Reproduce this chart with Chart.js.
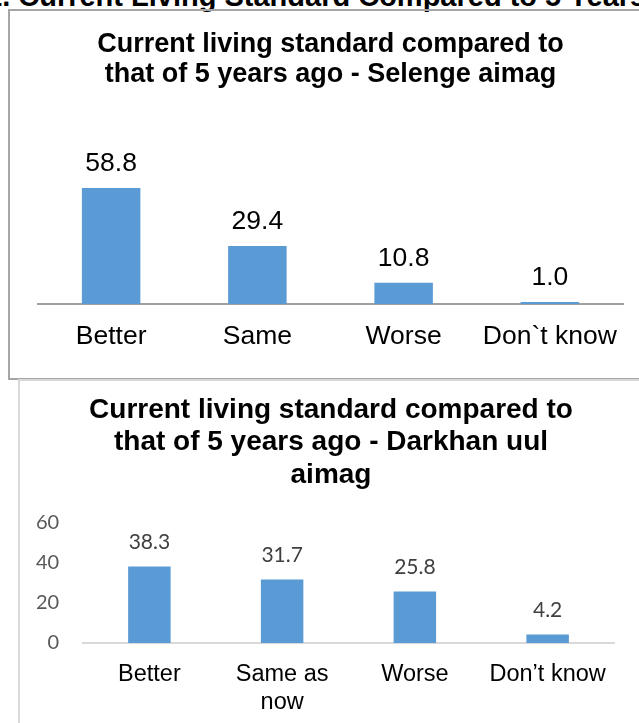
<!DOCTYPE html>
<html>
<head>
<meta charset="utf-8">
<script src="https://cdn.jsdelivr.net/npm/chart.js@4.4.0/dist/chart.umd.min.js"></script>
<style>
  html, body { margin: 0; padding: 0; background: #fff; overflow: hidden; width: 639px; height: 723px; }
  #heading {
    position: absolute; left: -14px; top: -18px; white-space: nowrap;
    font: bold 29px "Liberation Sans", Arial, sans-serif; line-height: 29px; color: #000;
  }
  #box1 { position: absolute; left: 8px; top: 9px; width: 700px; height: 371px; box-sizing: border-box; border: 2px solid #a6a6a6; }
  #box2 { position: absolute; left: 18px; top: 379px; width: 700px; height: 400px; box-sizing: border-box; border: 2px solid #d9d9d9; background: #fff; }
  #wrap1 { position: absolute; left: 9px; top: 10px; width: 630px; height: 368px; }
  #wrap2 { position: absolute; left: 21px; top: 382px; width: 618px; height: 341px; }
</style>
</head>
<body>
<div id="heading">1. Current Living Standard Compared to 5 Years Ago</div>
<div id="box1"></div>
<div id="box2"></div>
<div id="wrap1"><canvas id="selengeChart" width="630" height="368"></canvas></div>
<div id="wrap2"><canvas id="darkhanChart" width="618" height="341"></canvas></div>
<script>
// data
const selengeLabels = ["Better", "Same", "Worse", "Don`t know"];
const selengeValues = [58.8, 29.4, 10.8, 1.0];
const darkhanLabels = ["Better", ["Same as", "now"], "Worse", "Don’t know"];
const darkhanValues = [38.3, 31.7, 25.8, 4.2];
const darkhanTicks = [0, 20, 40, 60];

const barColor = '#5b9bd5';

// draws the value above each bar
const valueLabels = {
    id: 'valueLabels',
    afterDatasetsDraw(chart, args, opts) {
        const ctx = chart.ctx;
        ctx.save();
        ctx.font = opts.font;
        ctx.fillStyle = opts.color;
        ctx.textAlign = 'center';
        ctx.textBaseline = 'middle';
        chart.getDatasetMeta(0).data.forEach((bar, i) => {
            let v = chart.data.datasets[0].data[i];
            ctx.fillText(v.toFixed(1), bar.x, bar.y - opts.offset);
        });
        ctx.restore();
    }
};

let selengeChart = new Chart(document.getElementById('selengeChart'), {
    type: 'bar',
    data: {
        labels: selengeLabels,
        datasets: [{
            data: selengeValues,
            backgroundColor: barColor,
            categoryPercentage: 1,
            barPercentage: 0.4
        }]
    },
    plugins: [valueLabels],
    options: {
        responsive: false,
        animation: false,
        layout: { padding: { left: 29, right: 16, top: 0, bottom: 0 } },
        plugins: {
            legend: { display: false },
            tooltip: { enabled: false },
            title: {
                display: true,
                text: ["Current living standard compared to", "that of 5 years ago - Selenge aimag"],
                color: '#000',
                font: { family: '"Liberation Sans", Arial', size: 27, weight: 'bold', lineHeight: 30 / 27 },
                padding: { top: 20, bottom: 76 }
            },
            valueLabels: { font: '26.5px "Liberation Sans", Arial', color: '#000', offset: 24 }
        },
        scales: {
            x: {
                afterFit: (scale) => { scale.height = 74; },
                grid: { display: false, drawTicks: false },
                border: { display: true, color: '#a0a0a0', width: 2 },
                ticks: { color: '#000', padding: 17, font: { family: '"Liberation Sans", Arial', size: 26.5, lineHeight: 1.2 } }
            },
            y: {
                display: false,
                min: 0,
                max: 70
            }
        }
    }
});

let darkhanChart = new Chart(document.getElementById('darkhanChart'), {
    type: 'bar',
    data: {
        labels: darkhanLabels,
        datasets: [{
            data: darkhanValues,
            backgroundColor: barColor,
            categoryPercentage: 1,
            barPercentage: 0.32
        }]
    },
    plugins: [valueLabels],
    options: {
        responsive: false,
        animation: false,
        layout: { padding: { left: 27, right: 25, top: 0, bottom: 0 } },
        plugins: {
            legend: { display: false },
            tooltip: { enabled: false },
            title: {
                display: true,
                text: ["Current living standard compared to", "that of 5 years ago - Darkhan uul", "aimag"],
                color: '#000',
                font: { family: '"Liberation Sans", Arial', size: 28, weight: 'bold', lineHeight: 32.5 / 28 },
                padding: { top: 12, bottom: 31.5 }
            },
            valueLabels: { font: '21px Lato, "Open Sans"', color: '#404040', offset: 24 }
        },
        scales: {
            x: {
                afterFit: (scale) => { scale.height = 80; },
                grid: { display: false, drawTicks: false },
                border: { display: true, color: '#d9d9d9', width: 2 },
                ticks: { color: '#000', padding: 18, font: { family: '"Liberation Sans", Arial', size: 23.5, lineHeight: 1.19 } }
            },
            y: {
                min: 0,
                max: 60,
                afterBuildTicks: (axis) => { axis.ticks = darkhanTicks.map(v => ({ value: v })); },
                afterFit: (scale) => { scale.width = 35; },
                grid: { display: false, drawTicks: false },
                border: { display: false },
                // mirrored so the labels are not clipped to the narrow axis box
                ticks: { mirror: true, crossAlign: 'far', color: '#595959', padding: -47, font: { family: 'Lato, "Open Sans"', size: 20 } }
            }
        }
    }
});
</script>
</body>
</html>
